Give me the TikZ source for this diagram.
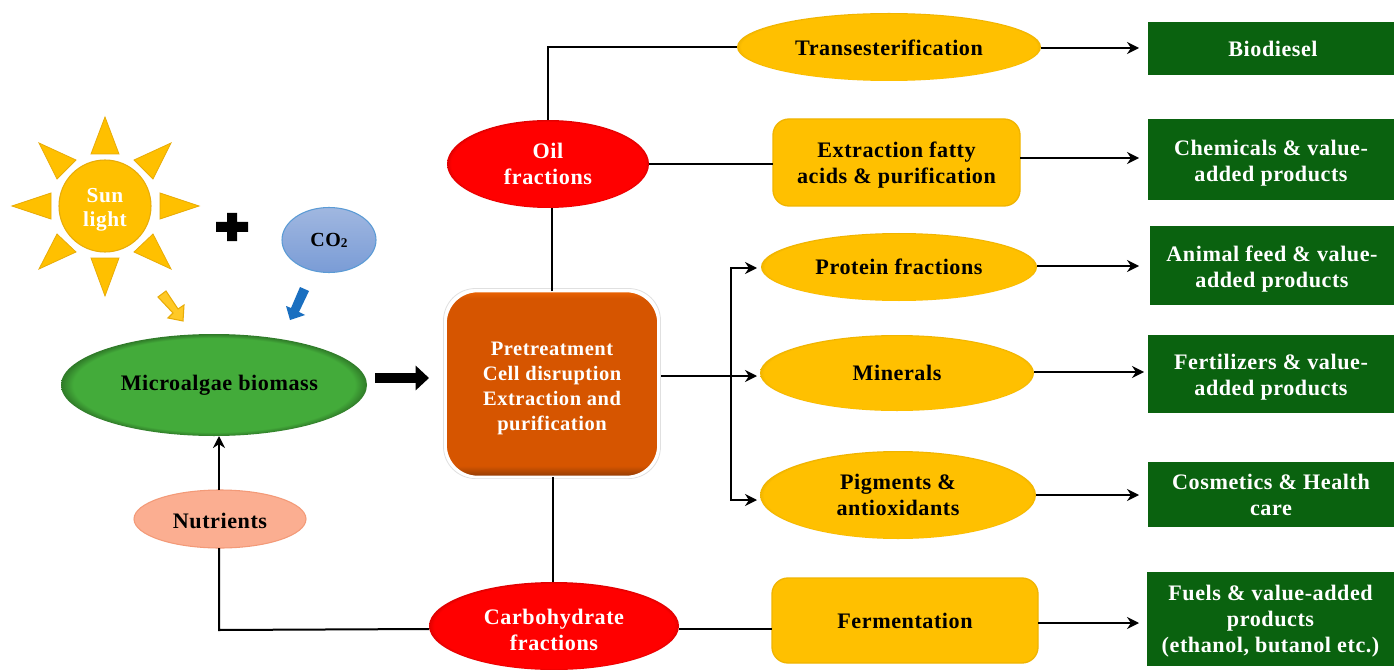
\documentclass[tikz,border=0pt]{standalone}
\usepackage{fontspec}
\setmainfont{Liberation Serif}[LetterSpace=2.5]
\usetikzlibrary{shapes.geometric,arrows.meta,calc}
\newcommand\dn[1]{\rule{0pt}{\dimexpr 11.2pt+#1pt*3/2\relax}}
\definecolor{gold}{HTML}{FFC000}
\definecolor{goldline}{HTML}{E8AC08}
\definecolor{goldedge}{HTML}{F0B400}
\definecolor{leaf}{HTML}{43AB3A}
\definecolor{leafdark}{HTML}{2F7A28}
\definecolor{rust}{HTML}{D65500}
\definecolor{rustlo}{HTML}{8E3A05}
\definecolor{rusthi}{HTML}{EC6403}
\definecolor{crimson}{HTML}{FF0000}
\definecolor{crimsondk}{HTML}{E00000}
\definecolor{peach}{HTML}{FBAE91}
\definecolor{peachline}{HTML}{F39A78}
\definecolor{forest}{HTML}{0A620F}
\definecolor{skyhi}{HTML}{A0B7E0}
\definecolor{skylo}{HTML}{7A9CD6}
\definecolor{skyline}{HTML}{5B9BD5}
\definecolor{darrow}{HTML}{1A6FC0}
\pgfdeclareradialshading{leafball}{\pgfpointorigin}{color(0bp)=(leaf);color(23bp)=(leaf);color(25bp)=(leafdark);color(50bp)=(leafdark)}
\pgfdeclareradialshading{redball}{\pgfpointorigin}{color(0bp)=(crimson);color(24bp)=(crimson);color(25bp)=(crimsondk);color(50bp)=(crimsondk)}
\pgfdeclareradialshading{goldball}{\pgfpointorigin}{color(0bp)=(gold);color(24.3bp)=(gold);color(25bp)=(goldedge);color(50bp)=(goldedge)}
\pgfdeclareverticalshading{rustbox}{100bp}{color(0bp)=(rustlo);color(25bp)=(rustlo);color(28bp)=(rust);color(73bp)=(rust);color(75bp)=(rusthi);color(100bp)=(rusthi)}
\tikzset{
  lbl/.style={font=\fontsize{16.6}{19.5}\selectfont\bfseries,align=center,inner sep=0pt,outer sep=0pt},
  goldoval/.style={ellipse,lbl,shading=goldball,text=black},
  redoval/.style={ellipse,lbl,shading=redball,text=white},
  goldbox/.style={rectangle,rounded corners=12pt,lbl,fill=gold,draw=goldedge,line width=1pt,text=black},
  greenbox/.style={rectangle,lbl,fill=forest,text=white},
  ray/.style={fill=gold,draw=goldline,line width=.6pt},
  link/.style={draw=black,line width=1.5pt},
  flow/.style={link,-{Stealth[length=9pt,width=9pt]}},
  size/.style 2 args={minimum width=#1*0.75pt,minimum height=#2*0.75pt}
}
\begin{document}
\begin{tikzpicture}[x=0.75pt,y=-0.75pt]
\useasboundingbox[fill=white] (0,0) rectangle (1394,670);
% sun
\node[ellipse,lbl,size={92}{92},fill=gold,draw=goldline,line width=.8pt,text=white,font=\fontsize{16}{18}\selectfont\bfseries] (sun) at (105,206) {\dn{3}Sun\\light};
\fill[ray] (105,117)--(91,154)--(119,154)--cycle;
\fill[ray] (105,296)--(91,258)--(119,258)--cycle;
\fill[ray] (12,206)--(51,193)--(51,219)--cycle;
\fill[ray] (199,206)--(160,193)--(160,219)--cycle;
\fill[ray] (39,143)--(76,160)--(57,179)--cycle;
\fill[ray] (171,143)--(134,160)--(153,179)--cycle;
\fill[ray] (39,269)--(76,252)--(57,234)--cycle;
\fill[ray] (171,269)--(134,252)--(153,234)--cycle;
% plus
\fill[black] (216,222)--(227,222)--(227,213)--(237,213)--(237,222)--(248,222)--(248,232)--(237,232)--(237,241)--(227,241)--(227,232)--(216,232)--cycle;
% CO2
\node[ellipse,lbl,size={94}{65},top color=skyhi,bottom color=skylo,draw=skyline,line width=.8pt,text=black,font=\fontsize{15}{18}\selectfont\bfseries] (co) at (329,240) {CO\raisebox{-0.1ex}{\fontsize{10}{10}\selectfont 2}};
% block arrows
\fill[gold!85!white,draw=goldline,line width=.8pt] (158,297)--(166,291)--(178,309)--(184,305)--(183,321)--(168,318)--(173,313)--cycle;
\fill[darrow] (300,287)--(309,291)--(299,312)--(305,315)--(290,320)--(286,306)--(291,308)--cycle;
% main nodes
\node[ellipse,lbl,size={306}{102},shading=leafball,text=black] (algae) at (214,385) {\hspace*{8pt}Microalgae biomass};
\node[ellipse,lbl,size={172}{58},fill=peach,draw=peachline,line width=.8pt,text=black] (nutr) at (220,519) {\dn{2}Nutrients};
\draw[rounded corners=24pt,black!12,line width=.6pt] (443.5,288.5) rectangle (660.5,478.5);
\node[rectangle,rounded corners=24pt,lbl,size={213}{186},shading=rustbox,draw=white,line width=2pt,text=white,font=\fontsize{15.4}{18.75}\selectfont\bfseries] (proc) at (552,384) {\dn{4}Pretreatment\\Cell disruption\\Extraction and\\purification};
\node[redoval,size={202}{88}] (oil) at (548,164) {Oil\\fractions};
\node[redoval,size={250}{88}] (carb) at (554,626) {\dn{4}Carbohydrate\\fractions};
\node[goldoval,size={304}{68}] (trans) at (889,47) {\dn{1}Transesterification};
\node[goldbox,size={247}{87}] (extr) at (896.5,162.5) {\dn{3}Extraction fatty\\acids \& purification};
\node[goldoval,size={276}{68}] (prot) at (899,267) {Protein fractions};
\node[goldoval,size={274}{76}] (mine) at (897,373) {Minerals};
\node[goldoval,size={276}{88}] (pigm) at (898,495) {Pigments \&\\antioxidants};
\node[goldbox,size={266}{85}] (ferm) at (905,620.5) {Fermentation};
\node[greenbox,size={246}{53}] (bio) at (1271,48.5) {\hspace*{3pt}Biodiesel};
\node[greenbox,size={246}{81}] (chem) at (1271,159.5) {\dn{4}Chemicals \& value-\\added products};
\node[greenbox,size={244}{79}] (feed) at (1272,265.5) {\dn{4}Animal feed \& value-\\added products};
\node[greenbox,size={246}{78}] (fert) at (1271,374) {\dn{3}Fertilizers \& value-\\added products};
\node[greenbox,size={246}{65}] (cosm) at (1271,494.5) {Cosmetics \& Health\\care};
\node[greenbox,size={247}{94}] (fuel) at (1270.5,619) {\dn{2}Fuels \& value-added\\products\\(ethanol, butanol etc.)};
% free ends
\coordinate (bio-in) at (1139,48);
\coordinate (chem-in) at (1139,158);
\coordinate (feed-in) at (1139,266);
\coordinate (fert-in) at (1144,372);
\coordinate (cosm-in) at (1139,495);
\coordinate (fuel-in) at (1139,623);
\coordinate (prot-in) at (757,268);
\coordinate (mine-in) at (757,376);
\coordinate (pigm-in) at (757,500);
\coordinate (proc-out) at (661,376);
\coordinate (trunk) at (731,376);
\coordinate (bl) at (375,378);
\coordinate (br) at (429,378);
% connectors
\draw[link] (oil.north) -- (548,47) -- (trans.west);
\draw[link] (oil.east) -- (extr.west |- oil.east);
\draw[link] (proc.north -| 552,0) -- (oil.south -| 552,0);
\draw[link] (proc.south -| 553,0) -- (carb.north -| 553,0);
\draw[link] (carb.east |- 0,629) -- (ferm.west |- 0,629);
\draw[flow] (trans.east |- bio-in) -- (bio-in);
\draw[flow] (extr.east |- chem-in) -- (chem-in);
\draw[flow] (prot.east |- feed-in) -- (feed-in);
\draw[flow] (mine.east |- fert-in) -- (fert-in);
\draw[flow] (pigm.east |- cosm-in) -- (cosm-in);
\draw[flow] (ferm.east |- fuel-in) -- (fuel-in);
\draw[flow] (proc-out) -- (mine-in);
\draw[flow] (trunk) |- (prot-in);
\draw[flow] (trunk) |- (pigm-in);
\draw[link] (carb.west |- 0,629) -- (219,630) -- (nutr.south -| 219,0);
\draw[flow] (nutr.north -| 219,0) -- (algae.south -| 219,0);
\draw[line width=9.5pt*0.75,-{Triangle[length=10pt,width=18pt]}] (bl) -- (br);
\end{tikzpicture}
\end{document}
